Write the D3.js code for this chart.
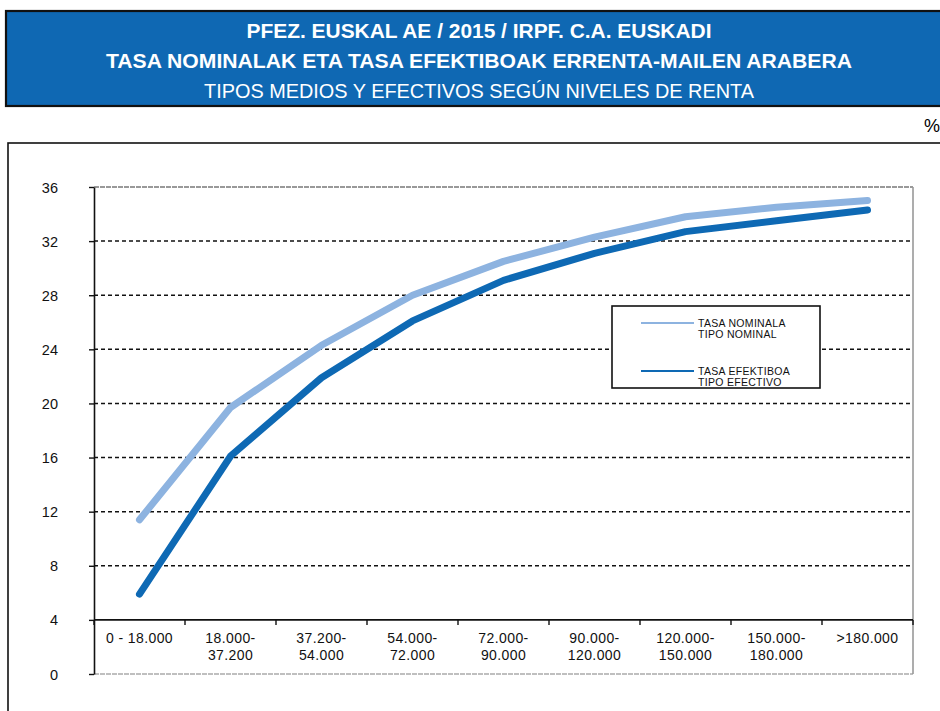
<!DOCTYPE html>
<html>
<head>
<meta charset="utf-8">
<script src="https://cdn.jsdelivr.net/npm/d3@7"></script>
<style>
  body { margin: 0; background: #fff; }
  svg { display: block; font-family: "Liberation Sans", Arial, sans-serif; }
</style>
</head>
<body>
<div id="chart"></div>
<script>
// income brackets (x categories)
const categories = [
  ['0 - 18.000'],
  ['18.000-', '37.200'],
  ['37.200-', '54.000'],
  ['54.000-', '72.000'],
  ['72.000-', '90.000'],
  ['90.000-', '120.000'],
  ['120.000-', '150.000'],
  ['150.000-', '180.000'],
  ['>180.000']
];
// nominal rate (tipo nominal)
const nominal = [11.4, 19.7, 24.3, 28.0, 30.5, 32.3, 33.8, 34.5, 35.0];
// effective rate (tipo efectivo)
const efectivo = [5.9, 16.1, 21.9, 26.1, 29.1, 31.1, 32.7, 33.5, 34.3];
const yTicks = [0, 4, 8, 12, 16, 20, 24, 28, 32, 36];
const titleLines = [
  'PFEZ. EUSKAL AE / 2015 / IRPF. C.A. EUSKADI',
  'TASA NOMINALAK ETA TASA EFEKTIBOAK ERRENTA-MAILEN ARABERA',
  'TIPOS MEDIOS Y EFECTIVOS SEGÚN NIVELES DE RENTA'
];
const legendItems = [
  { lines: ['TASA NOMINALA', 'TIPO NOMINAL'], color: '#8db3e0' },
  { lines: ['TASA EFEKTIBOA', 'TIPO EFECTIVO'], color: '#0e69b4' }
];

const W = 940, H = 711;
const svg = d3.select('#chart').append('svg').attr('width', W).attr('height', H);

// title banner
svg.append('rect')
  .attr('x', 6).attr('y', 11).attr('width', 960).attr('height', 95)
  .attr('fill', '#0f68b3').attr('stroke', '#111').attr('stroke-width', 2.2);

const titleY = [38, 68, 98];
const titleW = [465, 746, 550];
titleLines.forEach((t, i) => {
  svg.append('text')
    .attr('x', 479).attr('y', titleY[i])
    .attr('text-anchor', 'middle')
    .attr('fill', '#fff')
    .attr('font-size', 21)
    .attr('font-weight', i < 2 ? 'bold' : 'normal')
    .attr('textLength', titleW[i])
    .attr('lengthAdjust', 'spacingAndGlyphs')
    .text(t);
});

// % unit
svg.append('text').attr('x', 924).attr('y', 132).attr('font-size', 18).text('%');

// outer chart frame
svg.append('rect')
  .attr('x', 8).attr('y', 143).attr('width', 960).attr('height', 600)
  .attr('fill', 'none').attr('stroke', '#111').attr('stroke-width', 1.6);

// plot area
const plotLeft = 94, plotRight = 913, plotTop = 187, plotBottom = 674;

const x = d3.scaleBand().domain(d3.range(categories.length)).range([plotLeft, plotRight]);
const y = d3.scaleLinear().domain([0, 36]).range([plotBottom, plotTop]);

// plot border (grey, dashed top & bottom, solid right)
svg.append('line').attr('x1', plotLeft).attr('x2', plotRight).attr('y1', y(36)).attr('y2', y(36))
  .attr('stroke', '#999').attr('stroke-width', 2).attr('stroke-dasharray', '5,1');
svg.append('line').attr('x1', plotLeft).attr('x2', plotRight).attr('y1', y(0)).attr('y2', y(0))
  .attr('stroke', '#aaa').attr('stroke-width', 1.5).attr('stroke-dasharray', '5,1');
svg.append('line').attr('x1', plotRight).attr('x2', plotRight).attr('y1', y(36)).attr('y2', y(0))
  .attr('stroke', '#999').attr('stroke-width', 1.6);

// dashed gridlines
svg.append('g')
  .selectAll('line')
  .data(yTicks.filter((d) => d > 4 && d < 36))
  .join('line')
  .attr('x1', plotLeft).attr('x2', plotRight)
  .attr('y1', (d) => y(d)).attr('y2', (d) => y(d))
  .attr('stroke', '#111').attr('stroke-width', 1.5).attr('stroke-dasharray', '4,3');

// y axis
const yAxis = svg.append('g')
  .attr('transform', `translate(${plotLeft},0)`)
  .call(d3.axisLeft(y).tickValues(yTicks).tickSize(5).tickPadding(0).tickSizeOuter(0));
yAxis.attr('font-size', 14.5).attr('font-family', '"Liberation Sans", Arial, sans-serif');
yAxis.select('.domain').attr('stroke', '#111').attr('stroke-width', 1.6);
yAxis.selectAll('.tick line').attr('stroke', '#111').attr('stroke-width', 1.4);
yAxis.selectAll('.tick text')
  .attr('x', -36).attr('dy', '0.35em')
  .attr('fill', '#111');

// x axis crosses at y = 4
const xAxisY = y(4);
svg.append('line').attr('x1', plotLeft).attr('x2', plotRight).attr('y1', xAxisY).attr('y2', xAxisY)
  .attr('stroke', '#111').attr('stroke-width', 1.6);
svg.append('g')
  .selectAll('line')
  .data(d3.range(categories.length + 1))
  .join('line')
  .attr('x1', (d) => plotLeft + d * x.bandwidth()).attr('x2', (d) => plotLeft + d * x.bandwidth())
  .attr('y1', xAxisY).attr('y2', xAxisY + 5)
  .attr('stroke', '#111').attr('stroke-width', 1.4);

// category labels
const labels = svg.append('g')
  .selectAll('text')
  .data(categories)
  .join('text')
  .attr('x', (d, i) => x(i) + x.bandwidth() / 2)
  .attr('y', xAxisY + 23)
  .attr('text-anchor', 'middle')
  .attr('font-size', 14)
  .attr('letter-spacing', 0.4)
  .attr('fill', '#111');
labels.selectAll('tspan')
  .data((d) => d)
  .join('tspan')
  .attr('x', function () { return d3.select(this.parentNode).attr('x'); })
  .attr('dy', (d, i) => (i === 0 ? 0 : 17))
  .text((d) => d);

// lines
const line = d3.line()
  .x((d, i) => x(i) + x.bandwidth() / 2)
  .y((d) => y(d));

svg.append('path').datum(nominal)
  .attr('d', line).attr('fill', 'none')
  .attr('stroke', legendItems[0].color).attr('stroke-width', 7)
  .attr('stroke-linecap', 'round').attr('stroke-linejoin', 'round');

svg.append('path').datum(efectivo)
  .attr('d', line).attr('fill', 'none')
  .attr('stroke', legendItems[1].color).attr('stroke-width', 7)
  .attr('stroke-linecap', 'round').attr('stroke-linejoin', 'round');

// legend
const legend = svg.append('g').attr('transform', 'translate(612,306)');
legend.append('rect')
  .attr('width', 208).attr('height', 82)
  .attr('fill', '#fff').attr('stroke', '#111').attr('stroke-width', 1.6);

legendItems.forEach((item, i) => {
  const g = legend.append('g').attr('transform', `translate(0,${17 + i * 48})`);
  g.append('line').attr('x1', 29).attr('x2', 82).attr('y1', 0).attr('y2', 0)
    .attr('stroke', item.color).attr('stroke-width', 2.2);
  item.lines.forEach((t, j) => {
    g.append('text')
      .attr('x', 86).attr('y', 4 + j * 11)
      .attr('font-size', 10.5)
      .attr('letter-spacing', 0.3)
      .attr('fill', '#111')
      .text(t);
  });
});
</script>
</body>
</html>
